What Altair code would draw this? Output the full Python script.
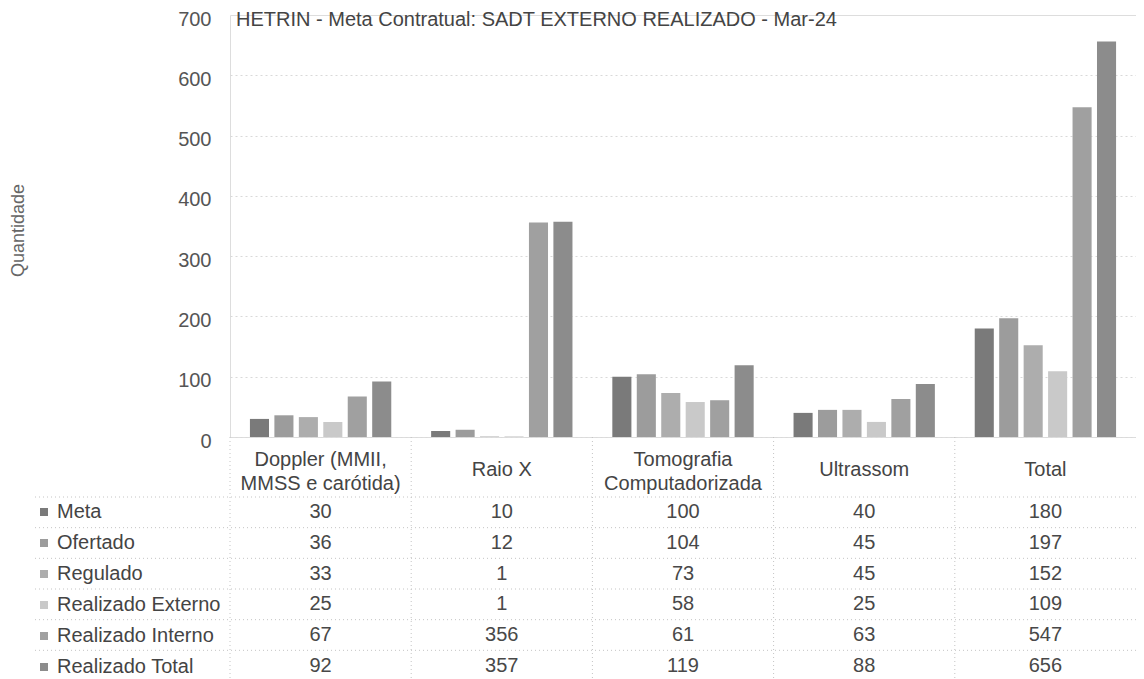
import altair as alt
import pandas as pd

categories = ["Doppler (MMII, MMSS e carótida)", "Raio X", "Tomografia Computadorizada", "Ultrassom", "Total"]
series = ["Meta", "Ofertado", "Regulado", "Realizado Externo", "Realizado Interno", "Realizado Total"]
meta = [30, 10, 100, 40, 180]
ofertado = [36, 12, 104, 45, 197]
regulado = [33, 1, 73, 45, 152]
realizado_externo = [25, 1, 58, 25, 109]
realizado_interno = [67, 356, 61, 63, 547]
realizado_total = [92, 357, 119, 88, 656]
y_ticks = [0, 100, 200, 300, 400, 500, 600, 700]
colors = ["#7a7a7a", "#9c9c9c", "#adadad", "#c9c9c9", "#a0a0a0", "#8c8c8c"]
chart_title = "HETRIN - Meta Contratual: SADT EXTERNO REALIZADO - Mar-24"

values_by_series = [meta, ofertado, regulado, realizado_externo, realizado_interno, realizado_total]
rows = []
for s, vals in zip(series, values_by_series):
    for c, v in zip(categories, vals):
        rows.append({"categoria": c, "serie": s, "valor": v})
df = pd.DataFrame(rows)
df_cat = pd.DataFrame({"categoria": categories})
df_ser = pd.DataFrame({"serie": series})
df_title = pd.DataFrame({"t": [chart_title]})

FONT = "Liberation Sans"
W, H = 906, 422
P_INNER = 0.22
STEP = W / (len(categories) - P_INNER + P_INNER)
TABLE_TOP, TABLE_BOTTOM = 482, 666

two_line_test = "datum.value == 'Doppler (MMII, MMSS e carótida)' || datum.value == 'Tomografia Computadorizada'"
label_expr = (
    "datum.label == 'Doppler (MMII, MMSS e carótida)' ? ['Doppler (MMII,', 'MMSS e carótida)'] : "
    "datum.label == 'Tomografia Computadorizada' ? ['Tomografia', 'Computadorizada'] : datum.label"
)
x_axis = alt.Axis(
    title=None, labelExpr=label_expr, labelAngle=0, labelFont=FONT, labelFontSize=20,
    labelColor="#444",
    labelBaseline={"condition": {"test": two_line_test, "value": "middle"}, "value": "top"},
    labelLineHeight=24, labelPadding=22,
    ticks=False, tickSize=0, domain=False, grid=False,
)
x_scale = alt.Scale(domain=categories, paddingInner=P_INNER, paddingOuter=P_INNER / 2)

color_scale = alt.Scale(domain=series, range=colors)

bars = alt.Chart(df).mark_bar().encode(
    x=alt.X("categoria:N", sort=categories, scale=x_scale, axis=x_axis),
    xOffset=alt.XOffset("serie:N", sort=series, scale=alt.Scale(domain=series, paddingInner=0.22)),
    y=alt.Y(
        "valor:Q",
        scale=alt.Scale(domain=[0, 700], nice=False),
        axis=alt.Axis(
            values=y_ticks, title="Quantidade", titleFont=FONT, titleFontSize=18,
            titleFontWeight="normal", titleColor="#666", titleX=-212, titleY=215,
            titleBaseline="middle", titleAngle=-90,
            labelFont=FONT, labelFontSize=20, labelColor="#555", labelPadding=19,
            labelOffset=4, ticks=False, tickSize=0, domain=False,
            grid=True, gridColor="#d9d9d9", gridDash=[2, 3], gridWidth=1,
            gridOpacity={"condition": {"test": "datum.value == 700", "value": 0}, "value": 1},
        ),
    ),
    color=alt.Color(
        "serie:N", sort=series, scale=color_scale,
        legend=alt.Legend(
            title=None, orient="none", legendX=-196, legendY=487, direction="vertical",
            symbolType="square", symbolSize=64, symbolStrokeWidth=0,
            labelFont=FONT, labelFontSize=20, labelColor="#444", labelOffset=3,
            labelLimit=400, rowPadding=11, padding=0, offset=0,
        ),
    ),
)

table_y = alt.Scale(domain=series, range=[TABLE_TOP, TABLE_BOTTOM], paddingInner=0, paddingOuter=0)

table_text = alt.Chart(df).mark_text(
    font=FONT, fontSize=20, color="#484848", baseline="middle", align="center"
).encode(
    x=alt.X("categoria:N", sort=categories, scale=x_scale, axis=x_axis),
    y=alt.Y("serie:N", sort=series, scale=table_y, axis=None),
    text=alt.Text("valor:Q"),
)

row_lines = alt.Chart(df_ser).mark_rule(color="#c4c4c4", strokeDash=[1, 3], strokeWidth=1).encode(
    y=alt.Y("serie:N", sort=series, scale=table_y, axis=None, bandPosition=0),
    x=alt.value(-195),
    x2=alt.value(W),
)

col_lines = alt.Chart(df_cat).mark_rule(
    color="#c4c4c4", strokeDash=[1, 3], strokeWidth=1, xOffset=-STEP * P_INNER / 2
).encode(
    x=alt.X("categoria:N", sort=categories, scale=x_scale, axis=x_axis, bandPosition=0),
    y=alt.value(H),
    y2=alt.value(TABLE_BOTTOM),
)

title_text = alt.Chart(df_title).mark_text(
    font=FONT, fontSize=20, color="#444", align="left", baseline="middle"
).encode(
    text="t:N",
    x=alt.value(6),
    y=alt.value(5),
)

chart = alt.layer(bars, row_lines, col_lines, table_text, title_text).resolve_scale(
    y="independent"
).properties(
    width=W,
    height=H,
    autosize=alt.AutoSizeParams(type="none"),
    padding={"left": 222, "top": 7, "right": 0, "bottom": 242},
).configure_view(stroke="transparent", strokeWidth=0).configure(background="white")

chart.save("out.html", embed_options={"renderer": "svg", "actions": False})
